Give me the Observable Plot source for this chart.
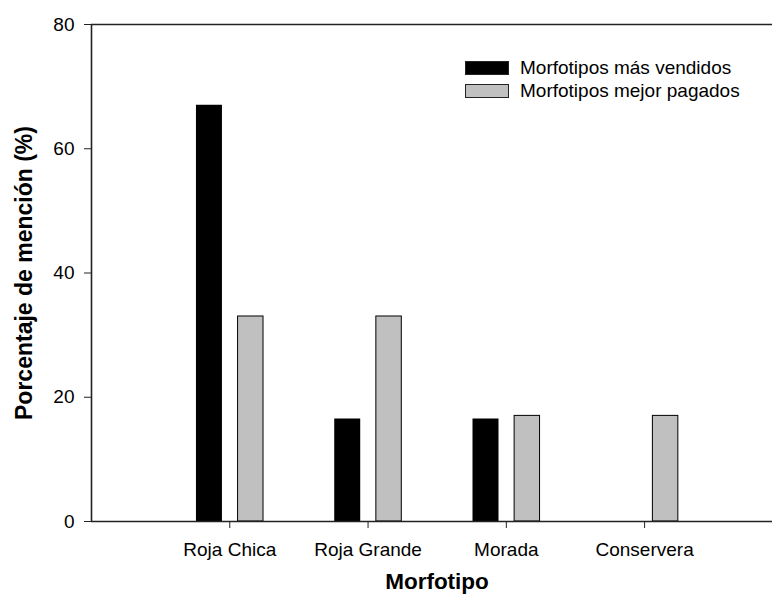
<!DOCTYPE html>
<html>
<head>
<meta charset="utf-8">
<script src="https://cdn.jsdelivr.net/npm/d3@7"></script>
<script src="https://cdn.jsdelivr.net/npm/@observablehq/plot@0.6"></script>
<style>
  html, body { margin: 0; padding: 0; background: #fff; }
  #wrap { position: relative; width: 772px; height: 601px; font-family: "Liberation Sans", Arial, sans-serif; }
  #legend { position: absolute; left: 465px; top: 57px; font-size: 19px; color: #000; line-height: 22.5px; }
  .row { display: flex; align-items: center; white-space: nowrap; }
  .sw { width: 44px; height: 14px; box-sizing: border-box; margin-right: 11px; }
</style>
</head>
<body>
<div id="wrap">
  <div id="legend"></div>
</div>
<script>
const categories = ["Roja Chica", "Roja Grande", "Morada", "Conservera"];
const masVendidos = [67, 16.5, 16.5, 0];
const mejorPagados = [33, 33, 17, 17];
const yTicks = [0, 20, 40, 60, 80];
const seriesNames = ["Morfotipos más vendidos", "Morfotipos mejor pagados"];
const seriesColors = ["#000000", "#c0c0c0"];

const positions = categories.map((c, i) => i + 1);
const blackData = categories.map((c, i) => ({cat: c, x1: positions[i] - 0.241, x2: positions[i] - 0.053, v: masVendidos[i]}));
const grayData = categories.map((c, i) => ({cat: c, x1: positions[i] + 0.06, x2: positions[i] + 0.244, v: mejorPagados[i]}));

const chart = Plot.plot({
  width: 772,
  height: 601,
  marginLeft: 91,
  marginRight: 0,
  marginTop: 24,
  marginBottom: 80,
  x: {type: "linear", domain: [0, 4.925]},
  y: {domain: [0, 80]},
  style: {fontFamily: "'Liberation Sans', Arial, sans-serif", fontSize: "19px", color: "#000", background: "#fff"},
  marks: [
    Plot.rectY(blackData.filter(d => d.v > 0), {x1: "x1", x2: "x2", y: "v", fill: seriesColors[0]}),
    Plot.rectY(grayData.filter(d => d.v > 0), {x1: "x1", x2: "x2", y: "v", fill: seriesColors[1], stroke: "#000", strokeWidth: 1}),
    Plot.ruleY([0, 80], {stroke: "#222", strokeWidth: 1.6}),
    Plot.ruleX([0], {stroke: "#222", strokeWidth: 1.6}),
    Plot.axisY({ticks: yTicks, tickSize: 7, tickPadding: 10, label: null, fontSize: 19, stroke: "#222"}),
    Plot.axisX({ticks: positions, tickFormat: d => categories[d - 1], tickSize: 7, tickPadding: 14, label: null, fontSize: 19, stroke: "#222"}),
    Plot.text(["Porcentaje de mención (%)"], {frameAnchor: "left", textAnchor: "middle", rotate: -90, dx: -67, fontSize: 23, fontWeight: "bold"}),
    Plot.text(["Morfotipo"], {frameAnchor: "bottom", dx: 5, dy: 67, fontSize: 22.5, fontWeight: "bold"})
  ]
});
document.getElementById("wrap").appendChild(chart);

const legend = document.getElementById("legend");
seriesNames.forEach((name, i) => {
  const row = document.createElement("div");
  row.className = "row";
  const sw = document.createElement("div");
  sw.className = "sw";
  sw.style.background = seriesColors[i];
  sw.style.border = "1.5px solid #222";
  const t = document.createElement("span");
  t.textContent = name;
  row.appendChild(sw);
  row.appendChild(t);
  legend.appendChild(row);
});
</script>
</body>
</html>
